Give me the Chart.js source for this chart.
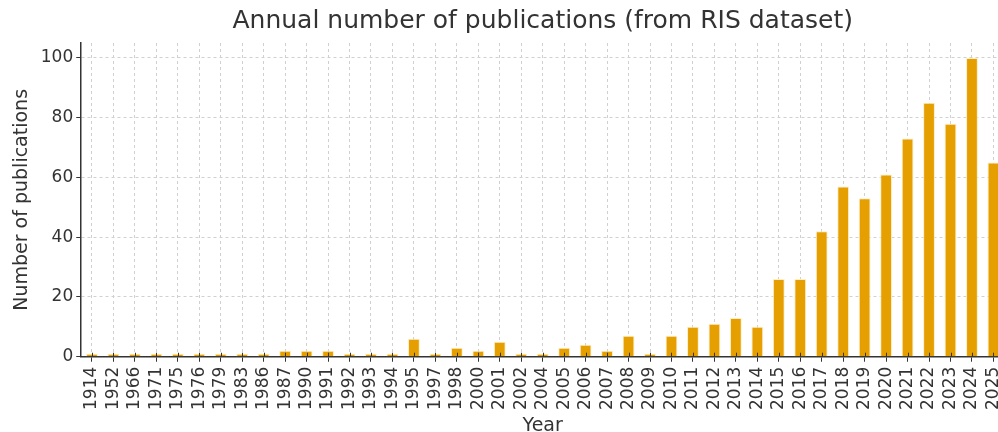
<!DOCTYPE html>
<html>
<head>
<meta charset="utf-8">
<script src="https://cdn.jsdelivr.net/npm/chart.js@4"></script>
<style>
  html, body { margin: 0; padding: 0; background: #fff; overflow: hidden; }
  #wrap { width: 998px; height: 432px; overflow: hidden; }
</style>
</head>
<body>
<div id="wrap"><canvas id="chart" width="1019" height="432"></canvas></div>
<script>
// Publications per year (RIS dataset)
const years = [
  "1914", "1952", "1966", "1971", "1975", "1976", "1979", "1983", "1986", "1987",
  "1990", "1991", "1992", "1993", "1994", "1995", "1997", "1998", "2000", "2001",
  "2002", "2004", "2005", "2006", "2007", "2008", "2009", "2010", "2011", "2012",
  "2013", "2014", "2015", "2016", "2017", "2018", "2019", "2020", "2021", "2022",
  "2023", "2024", "2025",
];
const counts = [
  1, 1, 1, 1, 1, 1, 1, 1, 1, 2,
  2, 2, 1, 1, 1, 6, 1, 3, 2, 5,
  1, 1, 3, 4, 2, 7, 1, 7, 10, 11,
  13, 10, 26, 26, 42, 57, 53, 61, 73, 85,
  78, 100, 65,
];
const yTicks = [0, 20, 40, 60, 80, 100];

const INK  = "#333333";
const FONT = "'DejaVu Sans', sans-serif";

// matplotlib-like "inout" tick marks drawn on top of the bars
const tickMarks = {
  id: "tickMarks",
  afterDatasetsDraw(chart) {
    const { ctx, scales: { x }, chartArea } = chart;
    ctx.save();
    ctx.strokeStyle = INK;
    ctx.lineWidth = 1;
    ctx.beginPath();
    x.ticks.forEach((_, i) => {
      const px = Math.round(x.getPixelForTick(i)) + 0.5;
      ctx.moveTo(px, chartArea.bottom - 4);
      ctx.lineTo(px, chartArea.bottom);
    });
    ctx.stroke();
    ctx.restore();
  },
};

new Chart(document.getElementById("chart"), {
  type: "bar",
  data: {
    labels: years,
    datasets: [{
      label: "Publications",
      data: counts,
      backgroundColor: "#E69F00",
      borderColor: "rgba(255,235,190,0.9)",
      borderWidth: 1,
      barPercentage: 0.55,
      categoryPercentage: 1,
    }],
  },
  options: {
    responsive: false,
    animation: false,
    layout: { padding: { left: 11, right: 0, top: 0, bottom: 0 } },
    plugins: {
      legend: { display: false },
      tooltip: { enabled: false },
      title: {
        display: true,
        fullSize: false,
        text: "Annual number of publications (from RIS dataset)",
        color: INK,
        font: { family: FONT, size: 25, weight: "normal" },
        padding: { top: 6, bottom: 7 },
      },
    },
    scales: {
      x: {
        offset: true,
        grid: { offset: false, color: "#d0d0d0", tickLength: 5, tickColor: INK },
        border: { display: true, color: INK, width: 1.5, dash: [3, 3] },
        ticks: {
          color: INK,
          font: { family: FONT, size: 17 },
          minRotation: 90,
          maxRotation: 90,
          autoSkip: false,
          padding: 5,
        },
        title: {
          display: true,
          text: "Year",
          color: INK,
          font: { family: FONT, size: 19, lineHeight: 1.0 },
          padding: { top: 2, bottom: -4 },
        },
      },
      y: {
        min: 0,
        max: 105,
        afterBuildTicks(axis) { axis.ticks = yTicks.map((v) => ({ value: v })); },
        grid: { color: "#d0d0d0", tickLength: 5, tickColor: INK },
        border: { display: true, color: INK, width: 1.5, dash: [3, 3] },
        ticks: {
          color: INK,
          font: { family: FONT, size: 17 },
          padding: 3,
        },
        title: {
          display: true,
          text: "Number of publications",
          color: INK,
          font: { family: FONT, size: 19 },
          padding: { top: 0, bottom: 4 },
        },
      },
    },
  },
  plugins: [tickMarks],
});
</script>
</body>
</html>
